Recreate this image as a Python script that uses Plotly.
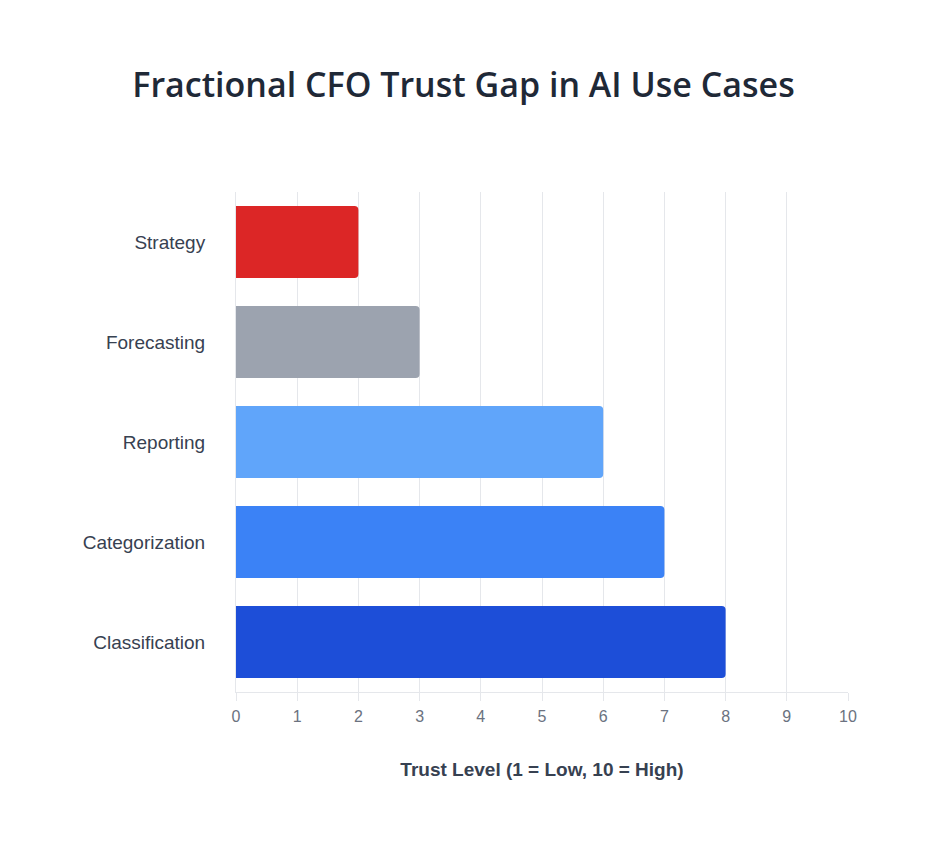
import plotly.graph_objects as go

categories = ["Strategy", "Forecasting", "Reporting", "Categorization", "Classification"]
trust_values = [2, 3, 6, 7, 8]
bar_colors = ["#dc2626", "#9ca3af", "#60a5fa", "#3b82f6", "#1d4ed8"]
x_ticks = list(range(0, 11))

OFF = 8  # page body margin
W, H = 949 - OFF, 862 - OFF
L, T = 236 - OFF, 192 - OFF
R = W - (848 - OFF)
B = H - (692 - OFF)
PW, PH = W - L - R, H - T - B

fig = go.Figure(go.Bar(
    x=trust_values,
    y=categories,
    orientation="h",
    width=0.72,
    marker=dict(color=bar_colors, cornerradius=4, line=dict(width=0)),
    hoverinfo="x+y",
))

fig.update_layout(
    width=W, height=H,
    margin=dict(l=L, r=R, t=T, b=B),
    paper_bgcolor="white",
    plot_bgcolor="white",
    showlegend=False,
    title=dict(
        text="Fractional CFO Trust Gap in AI Use Cases",
        font=dict(family="Open Sans", size=34, color="#1f2937", weight=600),
        x=(463.5 - OFF) / W, xref="container", xanchor="center",
        y=1 - (85 - OFF) / H, yref="container", yanchor="middle",
    ),
    font=dict(family="Liberation Sans, Arial, sans-serif"),
    shapes=[dict(
        type="rect", xref="paper", yref="paper",
        x0=(943 - OFF - L) / PW, x1=(W - L) / PW,
        y0=-B / PH, y1=1 + T / PH,
        fillcolor="#f5f5f5", line=dict(width=0), layer="above",
    )],
)

fig.update_xaxes(
    range=[0, 10],
    tickvals=x_ticks,
    showgrid=True, gridcolor="#e5e7eb", gridwidth=1,
    showline=True, linecolor="#e5e7eb", linewidth=1,
    ticks="outside", ticklen=8, tickcolor="#e5e7eb", tickwidth=1,
    tickfont=dict(size=16, color="#6b7280"),
    ticklabelstandoff=2,
    zeroline=False,
    title=dict(
        text="<b>Trust Level (1 = Low, 10 = High)</b>",
        font=dict(size=19, color="#374151"),
        standoff=38,
    ),
    fixedrange=True,
)

fig.update_yaxes(
    range=[4.5, -0.5],
    showgrid=False,
    showline=True, linecolor="#e5e7eb", linewidth=1,
    ticks="", ticklabelstandoff=26,
    tickfont=dict(size=19, color="#374151"),
    zeroline=False,
    fixedrange=True,
)

fig.write_html("out.html", config={"displayModeBar": False})
